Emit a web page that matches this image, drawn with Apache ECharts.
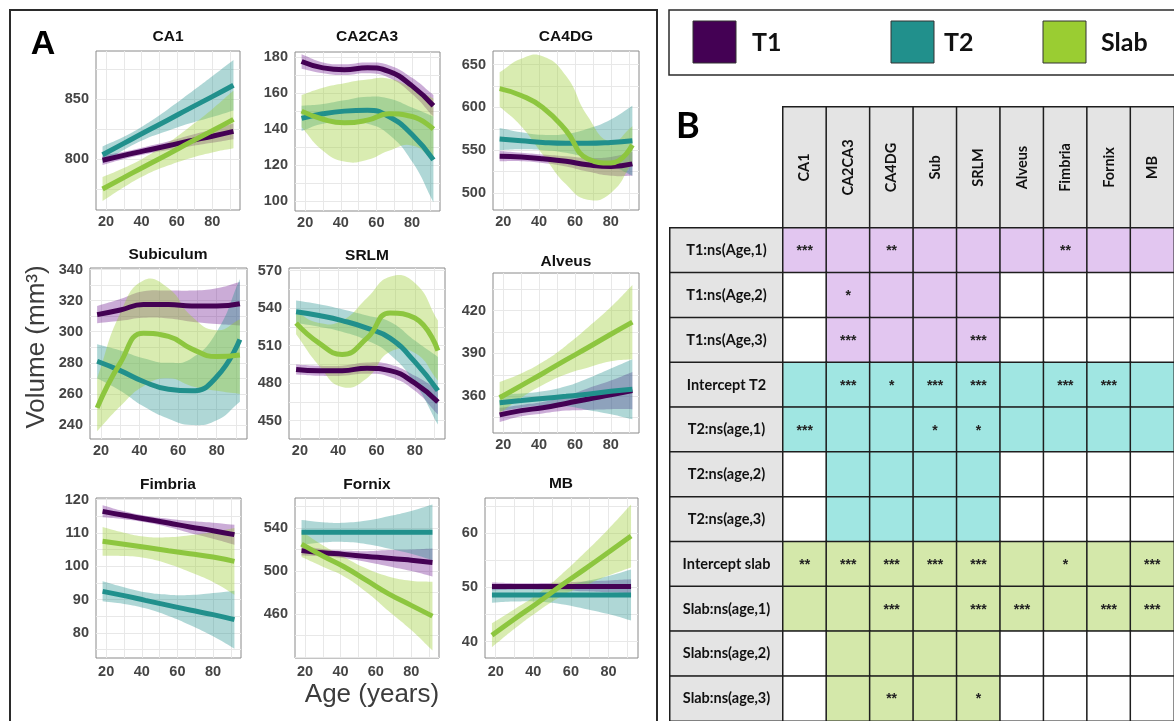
<!DOCTYPE html>
<html>
<head>
<meta charset="utf-8">
<script src="https://cdn.jsdelivr.net/npm/echarts@6/dist/echarts.min.js"></script>
<style>
  html, body { margin: 0; padding: 0; background: #ffffff; }
  #chart { width: 1174px; height: 721px; }
</style>
</head>
<body>
<div id="chart"></div>
<script>
// ---------- fitted volumes (mm^3) by age, with 95% confidence limits ----------
const ages = [18, 30, 42, 55, 67, 80, 92];
const groups = ['T1', 'T2', 'Slab'];

const ca1_T1 = [799, 803, 807, 811, 815, 819, 823];
const ca1_T1_lo = [795, 800, 804, 807.5, 810.5, 813.5, 816.5];
const ca1_T1_hi = [803, 806, 810, 814.5, 819.5, 824.5, 829.5];
const ca1_T2 = [803.5, 813, 822.5, 832.5, 842, 852, 861.5];
const ca1_T2_lo = [796.5, 807.5, 816.5, 823.5, 829.5, 835, 840.5];
const ca1_T2_hi = [810.5, 818.5, 828.5, 841.5, 854.5, 869, 882.5];
const ca1_Slab = [775, 784.5, 794, 804, 813.5, 823.5, 833];
const ca1_Slab_lo = [765, 776.5, 786.5, 794.5, 800.5, 805.5, 809];
const ca1_Slab_hi = [785, 792.5, 801.5, 813.5, 826.5, 841.5, 857];

const ca23_T1 = [177.5, 174, 173, 174, 172, 164, 153];
const ca23_T1_lo = [173.5, 171, 170, 171, 168.5, 159.5, 147];
const ca23_T1_hi = [181.5, 177, 176, 177, 175.5, 168.5, 159];
const ca23_T2 = [146, 148.5, 150, 150.5, 147, 137, 123];
const ca23_T2_lo = [139, 143, 144, 143, 137, 122, 99.5];
const ca23_T2_hi = [153, 154, 156, 158, 157, 152, 147];
const ca23_Slab = [150, 145.5, 143.5, 145, 148.5, 147, 140];
const ca23_Slab_lo = [141, 128, 122, 123, 128, 131, 123];
const ca23_Slab_hi = [159, 163, 165.5, 167.5, 168, 163, 157];

const ca4_T1 = [543, 542, 540, 537, 533, 531, 534];
const ca4_T1_lo = [537, 537, 535, 531, 525, 520, 520];
const ca4_T1_hi = [549, 547, 545, 543, 541, 542, 548];
const ca4_T2 = [563, 561, 559, 558, 558, 559, 561];
const ca4_T2_lo = [550, 551, 550, 547, 541, 532, 520];
const ca4_T2_hi = [576, 571, 568, 569, 575, 586, 602];
const ca4_Slab = [622, 614, 600, 573, 540, 535, 556];
const ca4_Slab_lo = [601, 578, 545, 510, 492, 500, 535];
const ca4_Slab_hi = [641, 657, 660, 637, 590, 560, 578];

const sub_T1 = [311, 314, 317.5, 317.5, 316.5, 316.5, 318];
const sub_T1_lo = [305.5, 307, 309, 308.5, 306.5, 305, 304];
const sub_T1_hi = [316.5, 321, 326, 326.5, 326.5, 328, 332];
const sub_T2 = [281, 275, 268, 263, 262, 271, 295];
const sub_T2_lo = [270, 262, 252, 244, 240, 243, 255];
const sub_T2_hi = [292, 288, 283, 280, 283, 300, 334];
const sub_Slab = [251, 280, 299, 297, 289, 284, 285];
const sub_Slab_lo = [236, 252, 265, 270, 265, 262, 260];
const sub_Slab_hi = [270, 312, 333, 328, 310, 301, 308];

const srlm_T1 = [491, 490, 490, 492, 490, 480, 465];
const srlm_T1_lo = [487, 486, 486, 487.5, 485, 474, 455];
const srlm_T1_hi = [495, 494, 494, 496.5, 495, 486, 475];
const srlm_T2 = [537, 534, 530, 524, 516, 497, 474];
const srlm_T2_lo = [528, 525, 521, 514, 503, 480, 447];
const srlm_T2_hi = [546, 543, 539, 534, 529, 514, 501];
const srlm_Slab = [528, 512, 503, 516, 536, 532, 506];
const srlm_Slab_lo = [519, 494, 477, 484, 505, 504, 482];
const srlm_Slab_hi = [537, 528, 530, 548, 565, 560, 530];

const alv_T1 = [347, 350, 352, 355, 358, 361, 364];
const alv_T1_lo = [342, 346, 348, 350, 350.5, 351, 351];
const alv_T1_hi = [352, 354, 356, 360, 365.5, 371, 377];
const alv_T2 = [355.5, 357, 358.5, 360, 361.5, 363.5, 365];
const alv_T2_lo = [349.5, 352, 353.5, 353, 350.5, 347.5, 344];
const alv_T2_hi = [361.5, 362, 363.5, 367, 372.5, 379.5, 386];
const alv_Slab = [359, 367.5, 376, 385.5, 394, 403.5, 412];
const alv_Slab_lo = [348, 359, 368, 375.5, 380, 384.5, 386];
const alv_Slab_hi = [370, 376, 384, 395.5, 408, 422.5, 438];

const fim_T1 = [116.5, 115.3, 114.2, 113, 111.8, 110.7, 109.5];
const fim_T1_lo = [114.7, 114.1, 113.2, 111.7, 110, 108.3, 106.5];
const fim_T1_hi = [118.3, 116.5, 115.2, 114.3, 113.6, 113.1, 112.5];
const fim_T2 = [92.5, 91.2, 89.8, 88.3, 86.9, 85.5, 84];
const fim_T2_lo = [89.5, 88.7, 87.4, 85.1, 82.4, 79, 75.3];
const fim_T2_hi = [95.5, 93.7, 92.2, 91.5, 91.4, 92, 92.7];
const fim_Slab = [107.5, 106.6, 105.7, 104.7, 103.8, 102.8, 101.5];
const fim_Slab_lo = [103.2, 103.1, 102.5, 100.7, 98.3, 95.3, 91.5];
const fim_Slab_hi = [111.8, 110.1, 108.9, 108.7, 109.3, 110.3, 111.5];

const fnx_T1 = [519, 517, 515.5, 513.5, 512, 510, 508];
const fnx_T1_lo = [514.5, 513.5, 512, 508.5, 504.5, 500, 495];
const fnx_T1_hi = [523.5, 520.5, 519, 518.5, 519.5, 520, 521];
const fnx_T2 = [536, 536, 536, 536, 536, 536, 536];
const fnx_T2_lo = [524.5, 526.5, 527, 525, 521, 516, 510];
const fnx_T2_hi = [547.5, 545.5, 545, 547, 551, 556, 562];
const fnx_Slab = [525, 514, 504, 491, 479, 468, 458];
const fnx_Slab_lo = [513, 504, 495, 480, 463, 445, 426];
const fnx_Slab_hi = [537, 524, 513, 502, 495, 491, 490];

const mb_T1 = [50.2, 50.2, 50.2, 50.2, 50.2, 50.2, 50.2];
const mb_T1_lo = [49.5, 49.6, 49.6, 49.5, 49.3, 49.1, 48.9];
const mb_T1_hi = [50.9, 50.8, 50.8, 50.9, 51.1, 51.3, 51.5];
const mb_T2 = [48.6, 48.6, 48.6, 48.6, 48.6, 48.6, 48.6];
const mb_T2_lo = [47.2, 47.4, 47.4, 46.9, 46.1, 45.1, 43.9];
const mb_T2_hi = [50, 49.8, 49.8, 50.3, 51.1, 52.1, 53.3];
const mb_Slab = [41.2, 44.2, 47.1, 50.4, 53.3, 56.5, 59.5];
const mb_Slab_lo = [39, 42.4, 45.5, 48.4, 50.3, 52.2, 53.7];
const mb_Slab_hi = [43.4, 46, 48.7, 52.4, 56.3, 60.8, 65.3];

// ---------- tick labels ----------
const ageTicks = [20, 40, 60, 80];
const ageGridLines = [20, 30, 40, 50, 60, 70, 80, 90];
const ca1_ticks = [800, 850];
const ca23_ticks = [100, 120, 140, 160, 180];
const ca4_ticks = [500, 550, 600, 650];
const sub_ticks = [240, 260, 280, 300, 320, 340];
const srlm_ticks = [450, 480, 510, 540, 570];
const alv_ticks = [360, 390, 420];
const fim_ticks = [80, 90, 100, 110, 120];
const fnx_ticks = [460, 500, 540];
const mb_ticks = [40, 50, 60];

// ---------- regression table ----------
const tableCols = ['CA1', 'CA2CA3', 'CA4DG', 'Sub', 'SRLM', 'Alveus', 'Fimbria', 'Fornix', 'MB'];
const tableRows = ['T1:ns(Age,1)', 'T1:ns(Age,2)', 'T1:ns(Age,3)', 'Intercept T2', 'T2:ns(age,1)',
  'T2:ns(age,2)', 'T2:ns(age,3)', 'Intercept slab', 'Slab:ns(age,1)', 'Slab:ns(age,2)', 'Slab:ns(age,3)'];
// 0 = term not in model, 1 = T1 term, 2 = T2 term, 3 = Slab term
const tableTerm = [
  [1, 1, 1, 1, 1, 1, 1, 1, 1],
  [0, 1, 1, 1, 1, 0, 0, 0, 0],
  [0, 1, 1, 1, 1, 0, 0, 0, 0],
  [2, 2, 2, 2, 2, 2, 2, 2, 2],
  [2, 2, 2, 2, 2, 2, 2, 2, 2],
  [0, 2, 2, 2, 2, 0, 0, 0, 0],
  [0, 2, 2, 2, 2, 0, 0, 0, 0],
  [3, 3, 3, 3, 3, 3, 3, 3, 3],
  [3, 3, 3, 3, 3, 3, 3, 3, 3],
  [0, 3, 3, 3, 3, 0, 0, 0, 0],
  [0, 3, 3, 3, 3, 0, 0, 0, 0]
];
const tableStars = [
  ['***', '', '**', '', '', '', '**', '', ''],
  ['', '*', '', '', '', '', '', '', ''],
  ['', '***', '', '', '***', '', '', '', ''],
  ['', '***', '*', '***', '***', '', '***', '***', ''],
  ['***', '', '', '*', '*', '', '', '', ''],
  ['', '', '', '', '', '', '', '', ''],
  ['', '', '', '', '', '', '', '', ''],
  ['**', '***', '***', '***', '***', '', '*', '', '***'],
  ['', '', '***', '', '***', '***', '', '***', '***'],
  ['', '', '', '', '', '', '', '', ''],
  ['', '', '**', '', '*', '', '', '', '']
];

// ---------- styling ----------
const SANS = '"Liberation Sans", Arial, sans-serif';
const HUM = 'Lato, "Open Sans", sans-serif';
const lineColor = { T1: '#440154', T2: '#21908C', Slab: '#8DC63F' };
const bandColor = { T1: 'rgba(112,25,145,0.36)', T2: 'rgba(33,144,140,0.36)', Slab: 'rgba(154,205,50,0.38)' };
const termColor = ['#ffffff', '#e2c6f0', '#a0e6e2', '#d4e8aa'];

const panels = [
  { title: 'CA1', fits: { T1: [ca1_T1, ca1_T1_lo, ca1_T1_hi], T2: [ca1_T2, ca1_T2_lo, ca1_T2_hi], Slab: [ca1_Slab, ca1_Slab_lo, ca1_Slab_hi] }, ticks: ca1_ticks, step: 25 },
  { title: 'CA2CA3', fits: { T1: [ca23_T1, ca23_T1_lo, ca23_T1_hi], T2: [ca23_T2, ca23_T2_lo, ca23_T2_hi], Slab: [ca23_Slab, ca23_Slab_lo, ca23_Slab_hi] }, ticks: ca23_ticks, step: 10 },
  { title: 'CA4DG', fits: { T1: [ca4_T1, ca4_T1_lo, ca4_T1_hi], T2: [ca4_T2, ca4_T2_lo, ca4_T2_hi], Slab: [ca4_Slab, ca4_Slab_lo, ca4_Slab_hi] }, ticks: ca4_ticks, step: 25 },
  { title: 'Subiculum', fits: { T1: [sub_T1, sub_T1_lo, sub_T1_hi], T2: [sub_T2, sub_T2_lo, sub_T2_hi], Slab: [sub_Slab, sub_Slab_lo, sub_Slab_hi] }, ticks: sub_ticks, step: 10 },
  { title: 'SRLM', fits: { T1: [srlm_T1, srlm_T1_lo, srlm_T1_hi], T2: [srlm_T2, srlm_T2_lo, srlm_T2_hi], Slab: [srlm_Slab, srlm_Slab_lo, srlm_Slab_hi] }, ticks: srlm_ticks, step: 15 },
  { title: 'Alveus', fits: { T1: [alv_T1, alv_T1_lo, alv_T1_hi], T2: [alv_T2, alv_T2_lo, alv_T2_hi], Slab: [alv_Slab, alv_Slab_lo, alv_Slab_hi] }, ticks: alv_ticks, step: 15 },
  { title: 'Fimbria', fits: { T1: [fim_T1, fim_T1_lo, fim_T1_hi], T2: [fim_T2, fim_T2_lo, fim_T2_hi], Slab: [fim_Slab, fim_Slab_lo, fim_Slab_hi] }, ticks: fim_ticks, step: 5 },
  { title: 'Fornix', fits: { T1: [fnx_T1, fnx_T1_lo, fnx_T1_hi], T2: [fnx_T2, fnx_T2_lo, fnx_T2_hi], Slab: [fnx_Slab, fnx_Slab_lo, fnx_Slab_hi] }, ticks: fnx_ticks, step: 20 },
  { title: 'MB', fits: { T1: [mb_T1, mb_T1_lo, mb_T1_hi], T2: [mb_T2, mb_T2_lo, mb_T2_hi], Slab: [mb_Slab, mb_Slab_lo, mb_Slab_hi] }, ticks: mb_ticks, step: 5 }
];

// panel plot boxes [left, top, width, height] and value ranges
const panelBoxes = [
  [96, 51, 144, 159], [295, 52, 145, 159], [493, 51, 146, 159],
  [90, 268, 157, 171], [289, 268, 156, 171], [493, 273, 146, 160],
  [96, 498, 145, 160], [295, 498, 144, 160], [485, 498, 153, 160]
];
const panelYRange = [
  [757.5, 890], [94.6, 182.8], [480, 666],
  [231, 341], [435.4, 572], [334.3, 446.4],
  [72.5, 120.5], [419, 568], [37, 66.5]
];
const ageRange = [14.3, 95.7];
const SMOOTH = 0.5;

const grids = [], xAxes = [], yAxes = [], series = [], graphics = [];

// confidence ribbon: one closed smoothed polygon between the lower and upper limits
function ribbon(i, g, lo, hi) {
  return {
    type: 'custom', name: g + ' 95% CI', xAxisIndex: i, yAxisIndex: i, silent: true, clip: true,
    data: ages.map((a, k) => [a, lo[k], hi[k]]),
    encode: { x: 0, y: [1, 2] },
    renderItem: function (params, api) {
      if (params.dataIndex !== 0) return null;
      const up = ages.map((a, k) => api.coord([a, hi[k]]));
      const dn = ages.map((a, k) => api.coord([a, lo[k]])).reverse();
      const pts = [up[0]].concat(up, [up[up.length - 1], dn[0]], dn, [dn[dn.length - 1]]);
      return { type: 'polygon', shape: { points: pts, smooth: SMOOTH }, style: { fill: bandColor[g] } };
    }
  };
}

panels.forEach((p, i) => {
  const [l, t, w, h] = panelBoxes[i];
  const [ymin, ymax] = panelYRange[i];
  grids.push({ left: l, top: t, width: w, height: h, show: true, backgroundColor: '#ffffff',
    borderColor: '#8a8a8a', borderWidth: 1 });

  // light grid at every major and minor break
  const yLines = [];
  const first = p.ticks[0] - p.step * Math.floor((p.ticks[0] - ymin) / p.step);
  for (let v = first; v <= ymax + 1e-9; v += p.step) yLines.push(+v.toFixed(4));

  const labelStyle = { color: '#444444', fontSize: 14.5, fontWeight: 'bold', fontFamily: SANS };
  xAxes.push({ type: 'value', gridIndex: i, min: ageRange[0], max: ageRange[1],
    axisLine: { show: false }, axisTick: { show: false, customValues: ageGridLines },
    axisLabel: Object.assign({ customValues: ageTicks, margin: i >= 6 ? 6 : 4 }, labelStyle),
    splitLine: { show: true, lineStyle: { color: '#e8e8e8', width: 1 } } });
  yAxes.push({ type: 'value', gridIndex: i, min: ymin, max: ymax,
    axisLine: { show: false }, axisTick: { show: false, customValues: yLines },
    axisLabel: Object.assign({ customValues: p.ticks, margin: 7 }, labelStyle),
    splitLine: { show: true, lineStyle: { color: '#e8e8e8', width: 1 } } });

  groups.forEach(g => {
    const [fit, lo, hi] = p.fits[g];
    series.push(ribbon(i, g, lo, hi));
    series.push({ type: 'line', name: g, xAxisIndex: i, yAxisIndex: i,
      data: ages.map((a, k) => [a, fit[k]]), symbol: 'none', smooth: SMOOTH, silent: true,
      itemStyle: { color: lineColor[g] }, lineStyle: { color: lineColor[g], width: 5, cap: 'butt' } });
  });
});

// panel titles
const titlePos = [[168, 37], [367, 37], [566, 37], [168, 255], [367, 256], [566, 262], [168, 485], [367, 485], [561, 484]];
panels.forEach((p, i) => {
  graphics.push({ type: 'text', x: titlePos[i][0], y: titlePos[i][1], silent: true,
    style: { text: p.title, font: 'bold 15.5px ' + SANS, fill: '#111111', textAlign: 'center', textVerticalAlign: 'middle' } });
});

// ---------- table: header row, row labels, body ----------
const tL = 783, tT = 228, cw = 44.6, rh = 45.4, hdrTop = 107, labL = 670;
const gHead = grids.length;
grids.push({ left: tL, top: hdrTop, width: cw * tableCols.length, height: tT - hdrTop });
xAxes.push({ type: 'category', gridIndex: gHead, data: tableCols, show: false });
yAxes.push({ type: 'category', gridIndex: gHead, data: ['header'], show: false });
series.push({ type: 'heatmap', xAxisIndex: gHead, yAxisIndex: gHead, silent: true,
  data: tableCols.map((c, i) => ({ value: [i, 0, 0], name: c })),
  itemStyle: { color: '#e4e4e4', borderColor: '#1e1e1e', borderWidth: 1.5 },
  label: { show: true, rotate: 90, formatter: p => p.name, color: '#111', fontFamily: HUM, fontWeight: 'bold', fontSize: 14.5 } });

const gLab = grids.length;
grids.push({ left: labL, top: tT, width: tL - labL, height: rh * tableRows.length });
xAxes.push({ type: 'category', gridIndex: gLab, data: ['term'], show: false });
yAxes.push({ type: 'category', gridIndex: gLab, data: tableRows, inverse: true, show: false });
series.push({ type: 'heatmap', xAxisIndex: gLab, yAxisIndex: gLab, silent: true,
  data: tableRows.map((r, j) => ({ value: [0, j, 0], name: r })),
  itemStyle: { color: '#e4e4e4', borderColor: '#1e1e1e', borderWidth: 1.5 },
  label: { show: true, formatter: p => p.name, color: '#111', fontFamily: HUM, fontWeight: 'bold', fontSize: 14.5 } });

const gBody = grids.length;
grids.push({ left: tL, top: tT, width: cw * tableCols.length, height: rh * tableRows.length });
xAxes.push({ type: 'category', gridIndex: gBody, data: tableCols, show: false });
yAxes.push({ type: 'category', gridIndex: gBody, data: tableRows, inverse: true, show: false });
const bodyData = [];
tableRows.forEach((r, j) => tableCols.forEach((c, i) => {
  bodyData.push({ value: [i, j, tableTerm[j][i]], name: tableStars[j][i],
    itemStyle: { color: termColor[tableTerm[j][i]] } });
}));
series.push({ type: 'heatmap', xAxisIndex: gBody, yAxisIndex: gBody, silent: true, data: bodyData,
  itemStyle: { borderColor: '#1e1e1e', borderWidth: 1.5 },
  label: { show: true, formatter: p => p.name, color: '#222', fontFamily: SANS, fontWeight: 'bold', fontSize: 14, offset: [0, 1] } });

// ---------- frames, panel letters, axis titles, legend ----------
graphics.push(
  { type: 'rect', shape: { x: 10, y: 10, width: 647, height: 740 }, silent: true,
    style: { fill: 'transparent', stroke: '#2b2b2b', lineWidth: 2 } },
  { type: 'text', x: 43, y: 45, silent: true,
    style: { text: 'A', font: 'bold 34px ' + SANS, fill: '#000', textAlign: 'center', textVerticalAlign: 'middle' } },
  { type: 'text', x: 372, y: 695, silent: true,
    style: { text: 'Age (years)', font: '26px ' + SANS, fill: '#3c3c3c', textAlign: 'center', textVerticalAlign: 'middle' } },
  { type: 'text', x: 37, y: 347, rotation: Math.PI / 2, silent: true,
    style: { text: 'Volume (mm³)', font: '26px ' + SANS, fill: '#3c3c3c', textAlign: 'center', textVerticalAlign: 'middle' } },
  { type: 'rect', shape: { x: 669, y: 10, width: 540, height: 65 }, silent: true,
    style: { fill: 'transparent', stroke: '#2b2b2b', lineWidth: 1.5 } },
  { type: 'text', x: 676, y: 126, silent: true,
    style: { text: 'B', font: 'bold 36px ' + HUM, fill: '#000', textAlign: 'left', textVerticalAlign: 'middle' } }
);
const legendPos = { T1: [693, 752], T2: [891, 944], Slab: [1043, 1101] };
groups.forEach(g => {
  const c = g === 'Slab' ? '#9ACD32' : lineColor[g];
  graphics.push(
    { type: 'rect', shape: { x: legendPos[g][0], y: 21, width: 43, height: 42 }, silent: true,
      style: { fill: c, stroke: '#333', lineWidth: 1 } },
    { type: 'text', x: legendPos[g][1], y: 43, silent: true,
      style: { text: g, font: 'bold 25px ' + HUM, fill: '#111', textAlign: 'left', textVerticalAlign: 'middle' } }
  );
});

const chart = echarts.init(document.getElementById('chart'), null, { renderer: 'canvas' });
chart.setOption({
  animation: false,
  backgroundColor: '#ffffff',
  grid: grids,
  xAxis: xAxes,
  yAxis: yAxes,
  series: series,
  graphic: graphics
});
</script>
</body>
</html>
